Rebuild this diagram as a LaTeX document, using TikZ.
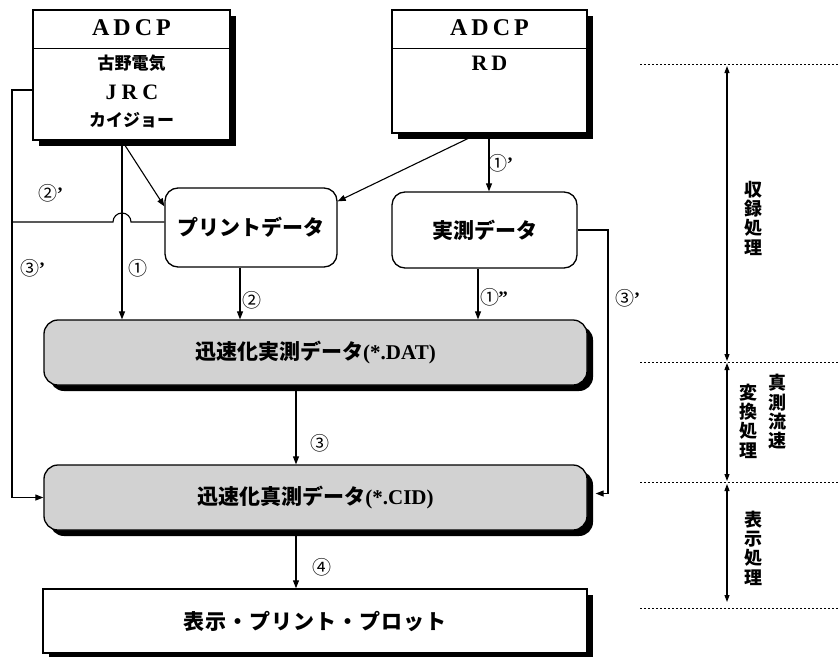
\documentclass[tikz,border=0pt]{standalone}
\usepackage{fontspec}
\setmainfont{Liberation Serif}
\newfontfamily\jp{Noto Sans CJK JP}
\usetikzlibrary{arrows.meta,shadows,calc}
\tikzset{
 sh/.style={drop shadow={shadow xshift=6pt,shadow yshift=-6pt,fill=black,opacity=1}},
 adcpbox/.style={draw,line width=1.4pt,fill=white,sh},
 rbox/.style={draw,line width=1.3pt,rounded corners=13pt,fill=white},
 graybox/.style={draw,line width=1.3pt,rounded corners=14pt,fill=gray!35,sh},
 arr/.style={line width=1.1pt,-{Triangle[length=8pt,width=6pt]}},
 ln/.style={line width=1.1pt},
 dots/.style={line width=0.9pt,dash pattern=on 2pt off 2pt},
 lab/.style={font=\jp\fontsize{19}{19}\selectfont,inner sep=0pt},
 vt/.style={font=\jp\bfseries\fontsize{18}{19.3}\selectfont,align=center,inner sep=0pt},
 dbl/.style={line width=1.1pt,{Triangle[length=7pt,width=5pt]}-{Triangle[length=7pt,width=5pt]}},
 jpt/.style={font=\jp\bfseries\fontsize{17}{17}\selectfont,inner sep=0pt},
 latl/.style={font=\bfseries\fontsize{24}{24}\selectfont,inner sep=0pt},
 lats/.style={font=\bfseries\fontsize{22}{22}\selectfont,inner sep=0pt},
}
\begin{document}
\begin{tikzpicture}[x=1pt,y=-1pt]
\useasboundingbox (0,0) rectangle (838,656);
% coordinates
\coordinate (xL) at (122,0);
\coordinate (xP) at (240,0);
\coordinate (xJ) at (478,0);
\coordinate (xR) at (489,0);
\coordinate (xF) at (12,0);
\coordinate (xG) at (608,0);
\coordinate (xM) at (296,0);
\coordinate (xA) at (727,0);
\coordinate (xE) at (838,0);
\coordinate (yA) at (0,90);
\coordinate (yB) at (0,222);
\coordinate (yDiv) at (0,48);
% ADCP boxes
\node[adcpbox,minimum width=197pt,minimum height=130pt] (adcpL) at (131.5,75) {};
\node[adcpbox,minimum width=195pt,minimum height=123pt] (adcpR) at (489.5,71.5) {};
\draw[line width=1pt] (adcpL.west |- yDiv) -- (adcpL.east |- yDiv);
\draw[line width=1pt] (adcpR.west |- yDiv) -- (adcpR.east |- yDiv);
\node[latl] (tL1) at (131.5,28) {A\kern4pt D\kern4pt C\kern4pt P};
\node[jpt] (tL2) at (131.5,63) {古野電気};
\node[lats] (tL3) at (132,92) {J\kern5pt R\kern5pt C};
\node[jpt] (tL4) at (131.5,120) {カイジョー};
\node[latl] (tR1) at (489.5,28) {A\kern4pt D\kern4pt C\kern4pt P};
\node[lats] (tR2) at (489.5,63) {R\kern4pt D};
% data boxes
\node[rbox,minimum width=172pt,minimum height=79pt,font=\jp\bfseries\fontsize{21}{21}\selectfont] (print) at (251,227.5) {プリントデータ};
\node[rbox,minimum width=185pt,minimum height=76pt,font=\jp\bfseries\fontsize{21}{21}\selectfont] (jis) at (484.5,230) {実測データ};
\node[graybox,minimum width=543pt,minimum height=65pt,font=\fontsize{21}{21}\selectfont] (dat) at (315.5,352.5) {{\jp\bfseries 迅速化実測データ}\textbf{(*.DAT)}};
\node[graybox,minimum width=543pt,minimum height=65pt,font=\fontsize{21}{21}\selectfont] (cid) at (315.5,497.5) {{\jp\bfseries 迅速化真測データ}\textbf{(*.CID)}};
\node[adcpbox,minimum width=544pt,minimum height=64pt,font=\jp\bfseries\fontsize{21}{21}\selectfont] (disp) at (315,621) {\addfontfeature{LetterSpace=5}表示・プリント・プロット};
% connectors
\draw[arr] (adcpL.south -| xL) -- (dat.north -| xL);
\draw[arr] (adcpL.south -| xL) -- ($(print.north west)+(0,19)$);
\draw[arr] (adcpR.south -| xJ) -- ($(print.north east)+(0,14)$);
\draw[arr] (adcpR.south -| xR) -- (jis.north -| xR);
\draw[arr] (print.south -| xP) -- (dat.north -| xP);
\draw[arr] (jis.south -| xJ) -- (dat.north -| xJ);
\draw[arr] (jis.east) -- (jis.east -| xG) -- ($(cid.east -| xG)+(0,-4)$) -- ($(cid.east)+(8,-4)$);
\draw[arr] (adcpL.west |- yA) -- (xF |- yA) -- (xF |- cid.west) -- (cid.west);
\draw[ln] (print.west |- yB) -- ($(xL |- yB)+(9,0)$) arc[start angle=0,end angle=180,radius=9pt] -- (xF |- yB);
\draw[arr] (dat.south -| xM) -- (cid.north -| xM);
\draw[arr] (cid.south -| xM) -- (disp.north -| xM);
% labels
\node[lab] (l2p) at (51,193) {②\kern-1pt{\rmfamily\bfseries ’}};
\node[lab] (l3pL) at (33,268) {③\kern-1pt{\rmfamily\bfseries ’}};
\node[lab] (l1) at (138,268) {①};
\node[lab] (l2) at (252,300) {②};
\node[lab] (l1p) at (501,163) {①\kern-1pt{\rmfamily\bfseries ’}};
\node[lab] (l1pp) at (494,297) {①\kern-1pt{\rmfamily\bfseries ”}};
\node[lab] (l3pR) at (628,298) {③\kern-1pt{\rmfamily\bfseries ’}};
\node[lab] (l3) at (320,443) {③};
\node[lab] (l4) at (322,567) {④};
% right side scale
\coordinate (d1) at (640,64);
\coordinate (d2) at (640,362);
\coordinate (d3) at (640,482);
\coordinate (d4) at (640,608);
\draw[dots] (d1) -- (d1 -| xE);
\draw[dots] (d2) -- (d2 -| xE);
\draw[dots] (d3) -- (d3 -| xE);
\draw[dots] (d4) -- (d4 -| xE);
\draw[dbl] ($(d1 -| xA)+(0,2)$) -- ($(d2 -| xA)+(0,-1)$);
\draw[dbl] ($(d2 -| xA)+(0,1)$) -- ($(d3 -| xA)+(0,-1)$);
\draw[dbl] ($(d3 -| xA)+(0,2)$) -- ($(d4 -| xA)+(0,-6)$);
\node[vt] (v1) at (753,218) {収\\録\\処\\理};
\node[vt] (v2) at (748,421) {変\\換\\処\\理};
\node[vt] (v3) at (777,412) {真\\測\\流\\速};
\node[vt] (v4) at (753,548) {表\\示\\処\\理};
\end{tikzpicture}
\end{document}
